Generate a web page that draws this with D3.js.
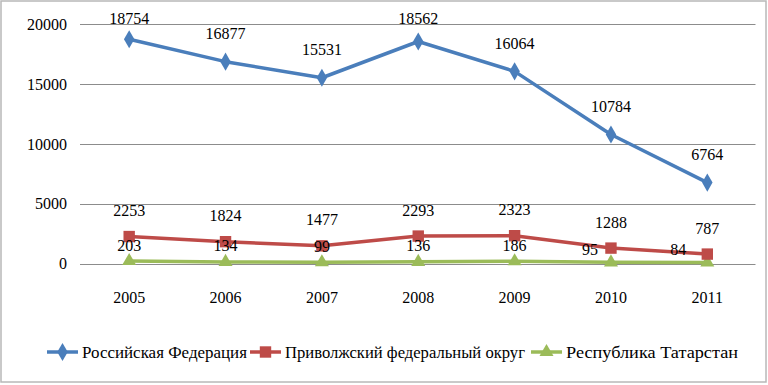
<!DOCTYPE html>
<html>
<head>
<meta charset="utf-8">
<script src="https://cdn.jsdelivr.net/npm/d3@7"></script>
<style>
  body { margin: 0; background: #fff; }
</style>
</head>
<body>
<svg id="chart" width="768" height="385" font-family="'Times New Roman', 'Liberation Serif', 'DejaVu Serif', serif"></svg>
<script>
const years = ["2005", "2006", "2007", "2008", "2009", "2010", "2011"];
const russia = [18754, 16877, 15531, 18562, 16064, 10784, 6764];
const volga = [2253, 1824, 1477, 2293, 2323, 1288, 787];
const tatarstan = [203, 134, 99, 136, 186, 95, 84];
const seriesNames = ["Российская Федерация", "Приволжский федеральный округ", "Республика Татарстан"];
const yTicks = [0, 5000, 10000, 15000, 20000];

const series = [
    { name: seriesNames[0], values: russia, color: "#4a7ebb", shape: d3.symbolDiamond, size: 95, dy: -28 },
    { name: seriesNames[1], values: volga, color: "#be4b48", shape: d3.symbolSquare, size: 130, dy: -26 },
    { name: seriesNames[2], values: tatarstan, color: "#9bbb59", shape: d3.symbolTriangle, size: 85, dy: -16 }
];

let svg = d3.select("#chart");

// outer frame
svg.append("rect")
    .attr("x", 1).attr("y", 1).attr("width", 765).attr("height", 381)
    .attr("fill", "#fff").attr("stroke", "#b8b8b8").attr("stroke-width", 1.5);

let x = d3.scaleBand().domain(years).range([81, 755.5]);
let y = d3.scaleLinear().domain([0, 20000]).range([263.5, 24.3]);

// gridlines
svg.append("g").selectAll("line")
    .data(yTicks)
    .enter().append("line")
    .attr("x1", 80).attr("x2", 755.5)
    .attr("y1", d => Math.round(y(d)) + 0.5).attr("y2", d => Math.round(y(d)) + 0.5)
    .attr("stroke", "#8c8c8c").attr("stroke-width", 1);

// y axis labels
svg.append("g").selectAll("text")
    .data(yTicks)
    .enter().append("text")
    .attr("x", 67).attr("y", d => y(d))
    .attr("dy", "0.35em")
    .attr("text-anchor", "end")
    .style("font-size", "16px")
    .text(d => d);

// x axis labels
svg.append("g").selectAll("text")
    .data(years)
    .enter().append("text")
    .attr("x", d => x(d) + x.bandwidth() / 2).attr("y", 297)
    .attr("dy", "0.35em")
    .attr("text-anchor", "middle")
    .style("font-size", "16px")
    .text(d => d);

let cx = (d, i) => x(years[i]) + x.bandwidth() / 2;

// draw series back to front so blue is on top
for (let s of series.slice().reverse()) {
    let line = d3.line().x((d, i) => cx(d, i)).y(d => y(d));
    svg.append("path")
        .datum(s.values)
        .attr("d", line)
        .attr("fill", "none")
        .attr("stroke", s.color)
        .attr("stroke-width", 3.5)
        .attr("stroke-linejoin", "round");

    svg.append("g").selectAll("path")
        .data(s.values)
        .enter().append("path")
        .attr("d", d3.symbol().type(s.shape).size(s.size))
        .attr("transform", (d, i) => "translate(" + cx(d, i) + "," + y(d) + ")")
        .attr("fill", s.color);
}

// data labels
series.forEach((s, si) => {
    svg.append("g").selectAll("text")
        .data(s.values)
        .enter().append("text")
        .attr("x", (d, i) => {
            // last two Tatarstan labels sit to the left of the point
            if (si == 2 && i == 5) return cx(d, i) - 21;
            if (si == 2 && i == 6) return cx(d, i) - 29;
            return cx(d, i);
        })
        .attr("y", (d, i) => {
            if (si == 2 && i >= 5) return y(d) - 13;
            return Math.max(18.5, y(d) + s.dy);
        })
        .attr("dy", "0.35em")
        .attr("text-anchor", "middle")
        .style("font-size", "16px")
        .text(d => d);
});

// legend
let legendX = [47, 250, 531];
let legendW = [165, 240, 172];
let legend = svg.append("g");
series.forEach((s, i) => {
    let g = legend.append("g").attr("transform", "translate(" + legendX[i] + ",352)");
    g.append("line").attr("x1", 0).attr("x2", 31).attr("y1", 0).attr("y2", 0)
        .attr("stroke", s.color).attr("stroke-width", 3.5);
    g.append("path")
        .attr("d", d3.symbol().type(s.shape).size(s.size))
        .attr("transform", "translate(15.5,0)")
        .attr("fill", s.color);
    g.append("text")
        .attr("x", 35).attr("y", 0).attr("dy", "0.35em")
        .attr("textLength", legendW[i])
        .attr("lengthAdjust", "spacingAndGlyphs")
        .style("font-size", "17px")
        .text(s.name);
});
</script>
</body>
</html>
